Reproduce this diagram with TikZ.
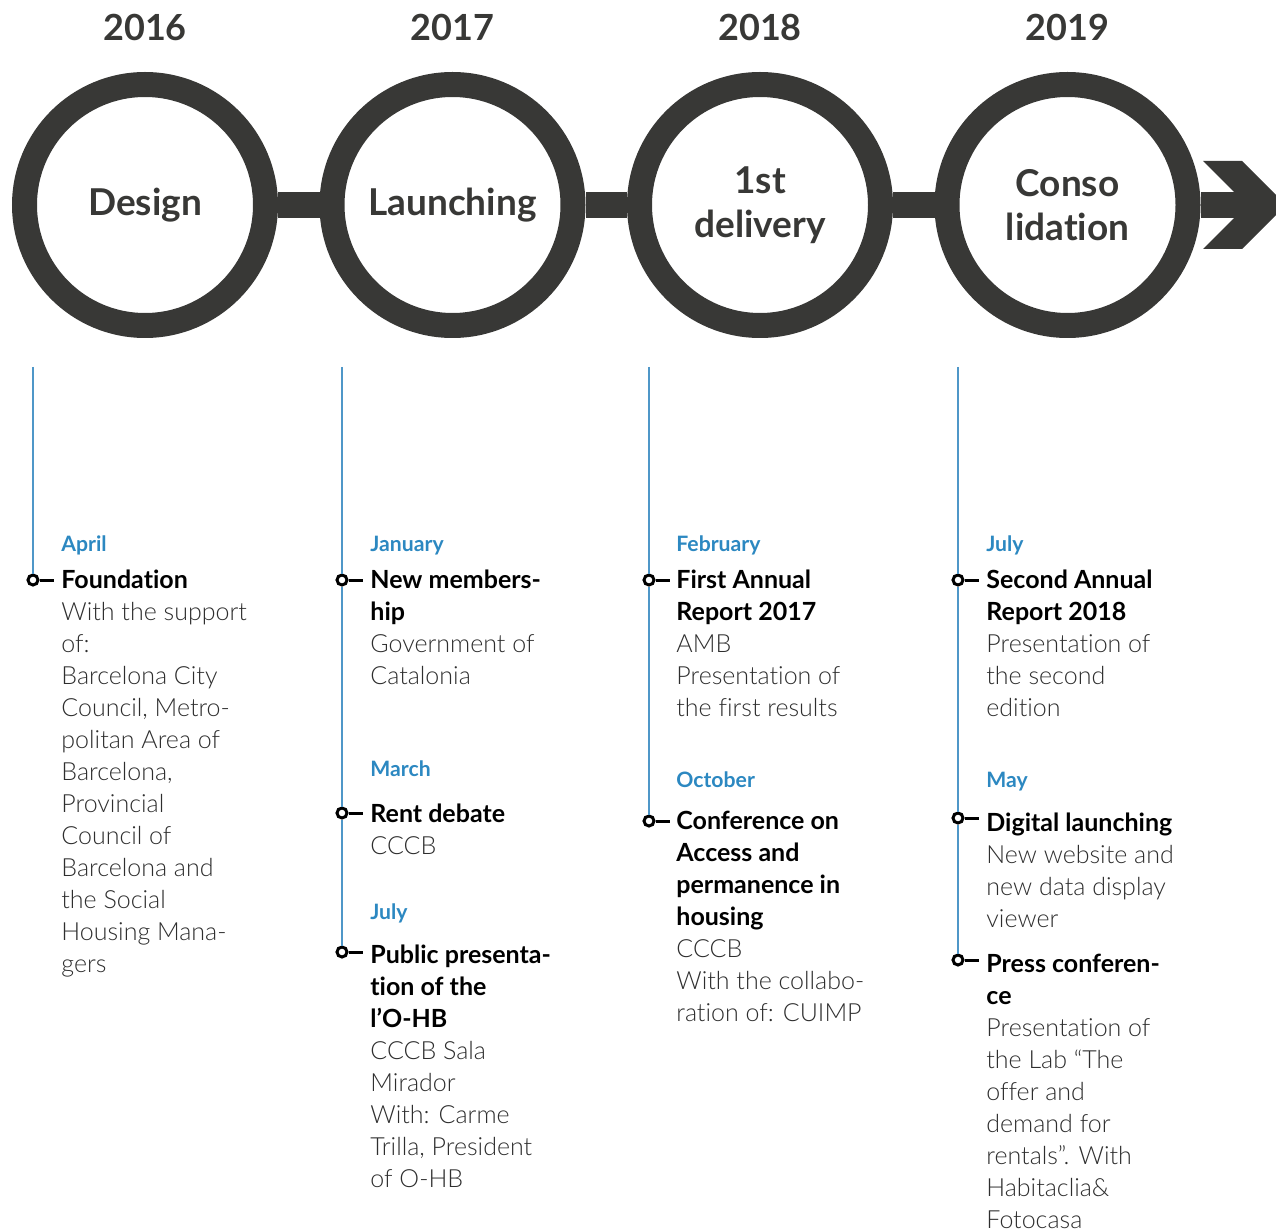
\documentclass[tikz,border=0pt]{standalone}
\usepackage{fontspec}
\setmainfont{Lato}[Ligatures=NoCommon]
\newfontfamily\lightfont{Lato Light}[Ligatures=NoCommon]
\definecolor{ringgray}{HTML}{383836}
\definecolor{textgray}{HTML}{2E2E2E}
\definecolor{monthblue}{HTML}{2C88C1}
\definecolor{lineblue}{HTML}{4F97C8}
\newcommand{\hd}[1]{{\normalfont\bfseries\color{black}#1}}

\begin{document}
\begin{tikzpicture}[x=0.5pt,y=-0.5pt,
  ring/.style={circle,draw=ringgray,line width=12.5pt,minimum size=120.5pt,inner sep=0pt,
    text=ringgray,align=center,font=\bfseries\fontsize{18.5}{22}\selectfont},
  year/.style={anchor=base,text=ringgray,font=\bfseries\fontsize{18}{22}\selectfont},
  bar/.style={draw=ringgray,line width=13pt},
  month/.style={anchor=base west,inner sep=0pt,text=monthblue,font=\bfseries\fontsize{10.6}{12}\selectfont},
  % first line gets a fixed height, so north sits 12pt above its baseline
  entry/.style={anchor=north west,inner sep=0pt,align=left,text=textgray,
    font=\lightfont\fontsize{12.5}{16}\selectfont,
    execute at begin node={\vrule height 12pt depth 0pt width 0pt\relax}},
  dot/.style={circle,draw=black,fill=white,line width=1.5pt,minimum size=5pt,inner sep=0pt},
  stem/.style={draw=lineblue,line width=0.75pt}]
\useasboundingbox (0,0) rectangle (1276,1230);

% years and phases
\foreach \x/\yr/\phase [count=\i] in {145/2016/{Design},452.5/2017/{Launching},
    760/2018/{1st\\delivery},1067.5/2019/{Conso\\lidation}} {
  \node[year] (y\i) at (\x,41) {\yr};
  \node[ring] (c\i) at (\x,205) {\phase};
}
\draw[bar] (c1.east) -- (c2.west);
\draw[bar] (c2.east) -- (c3.west);
\draw[bar] (c3.east) -- (c4.west);
\coordinate (head) at (1250,205);
\draw[bar] (c4.east) -- (head);
\fill[ringgray] (1203,161) -- (1242,161) -- (1286,205) -- (1242,249) -- (1203,249) -- (1247,205) -- cycle;

% event markers
\foreach \x/\y/\n in {33/580/m11, 342/580/m21, 342/813/m22, 342/952/m23,
    649/580/m31, 649/821/m32, 958/580/m41, 958/818/m42, 958/960/m43} {
  \node[dot] (\n) at (\x,\y) {};
  \draw[line width=1.5pt] (\n.east) -- ++(14,0);
}
\foreach \x [count=\i] in {33,342,649,958} {
  \coordinate (top\i) at (\x,367);
}
\draw[stem] (top1) -- (m11.north);
\draw[stem] (top2) -- (m21.north);
\draw[stem] (m21.south) -- (m22.north);
\draw[stem] (m22.south) -- (m23.north);
\draw[stem] (top3) -- (m31.north);
\draw[stem] (m31.south) -- (m32.north);
\draw[stem] (top4) -- (m41.north);
\draw[stem] (m41.south) -- (m42.north);
\draw[stem] (m42.south) -- (m43.north);

% 2016
\node[month] (mo11) at (61,552) {April};
\node[entry] (t11) at (61,570) {\hd{Foundation}\\With the support\\of:\\Barcelona City\\Council, Metro-\\politan Area of\\Barcelona,\\Provincial\\Council of\\Barcelona and\\the Social\\Housing Mana-\\gers};

% 2017
\node[month] (mo21) at (370,552) {January};
\node[entry] (t21) at (370,570) {\hd{New members-}\\\hd{hip}\\Government of\\Catalonia};
\node[month] (mo22) at (370,776) {March};
\node[entry] (t22) at (370,804) {\hd{Rent debate}\\CCCB};
\node[month] (mo23) at (370,919) {July};
\node[entry] (t23) at (370,945) {\hd{Public presenta-}\\\hd{tion of the}\\\hd{l’O-HB}\\CCCB Sala\\Mirador\\With: Carme\\Trilla, President\\of O-HB};

% 2018
\node[month] (mo31) at (676,552) {February};
\node[entry] (t31) at (676,570) {\hd{First Annual}\\\hd{Report 2017}\\AMB\\Presentation of\\the first results};
\node[month] (mo32) at (676,787) {October};
\node[entry] (t32) at (676,811) {\hd{Conference on}\\\hd{Access and}\\\hd{permanence in}\\\hd{housing}\\CCCB\\With the collabo-\\ration of: CUIMP};

% 2019
\node[month] (mo41) at (986,552) {July};
\node[entry] (t41) at (986,570) {\hd{Second Annual}\\\hd{Report 2018}\\Presentation of\\the second\\edition};
\node[month] (mo42) at (986,787) {May};
\node[entry] (t42) at (986,813) {\hd{Digital launching}\\New website and\\new data display\\viewer};
\node[entry] (t43) at (986,954) {\hd{Press conferen-}\\\hd{ce}\\Presentation of\\the Lab “The\\offer and\\demand for\\rentals”. With\\Habitaclia\&\\Fotocasa};
\end{tikzpicture}
\end{document}
